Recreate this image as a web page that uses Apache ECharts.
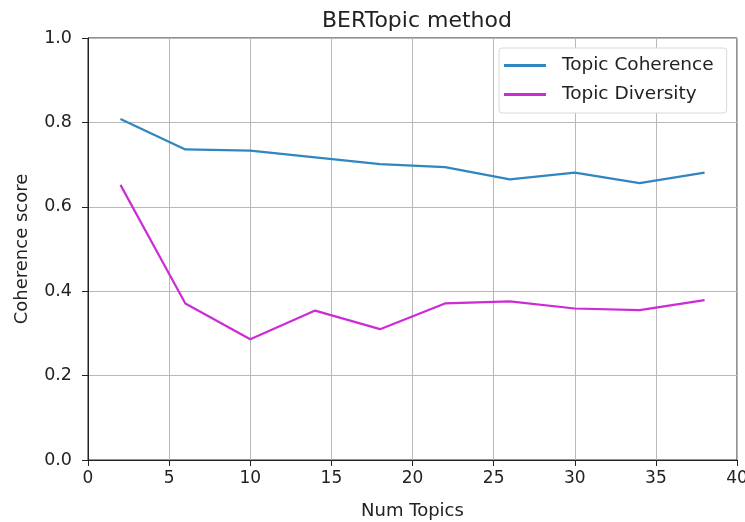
<!DOCTYPE html>
<html><head><meta charset="utf-8">
<script src="https://cdn.jsdelivr.net/npm/echarts@6/dist/echarts.min.js"></script>
<style>html,body{margin:0;padding:0;background:#fff}#c{width:745px;height:522px}</style>
</head><body><div id="c"></div>
<script>
const numTopics = [2, 6, 10, 14, 18, 22, 26, 30, 34, 38];
const coherence = [0.808, 0.736, 0.733, 0.717, 0.701, 0.694, 0.665, 0.681, 0.656, 0.681];
const diversity = [0.652, 0.371, 0.286, 0.354, 0.310, 0.371, 0.376, 0.359, 0.355, 0.379];
const FONT = 'DejaVu Sans';
const chart = echarts.init(document.getElementById('c'));
chart.setOption({
  animation: false,
  title: { text: 'BERTopic method', left: 412, textAlign: 'center', top: 5,
    textStyle: { fontFamily: FONT, fontSize: 22, fontWeight: 'normal', color: '#222' } },
  grid: { left: 88, right: 8, top: 38, bottom: 62, show: true, borderColor: '#222', borderWidth: 1,
    containLabel: false, outerBoundsMode: 'none' },
  legend: {
    orient: 'vertical', left: 499, top: 48, itemGap: 10,
    itemWidth: 42, itemHeight: 3, icon: 'rect',
    padding: [8, 13, 9, 5],
    backgroundColor: '#fff', borderColor: '#d8d8d8', borderWidth: 1, borderRadius: 3,
    textStyle: { fontFamily: FONT, fontSize: 18.5, color: '#222', padding: [0, 0, 0, 11] },
    data: ['Topic Coherence', 'Topic Diversity']
  },
  xAxis: {
    type: 'value', min: 0, max: 40, interval: 5,
    name: 'Num Topics', nameLocation: 'middle', nameGap: 42,
    nameTextStyle: { fontFamily: FONT, fontSize: 18, color: '#222' },
    axisLine: { lineStyle: { color: '#222' } },
    axisTick: { show: true, length: 6, lineStyle: { color: '#222' } },
    axisLabel: { fontFamily: FONT, fontSize: 17, color: '#222', margin: 10 },
    splitLine: { show: true, lineStyle: { color: '#b8b8b8', width: 1 } }
  },
  yAxis: {
    type: 'value', min: 0, max: 1, interval: 0.2,
    name: 'Coherence score', nameLocation: 'middle', nameGap: 57,
    nameTextStyle: { fontFamily: FONT, fontSize: 18, color: '#222' },
    axisLine: { show: true, lineStyle: { color: '#222' } },
    axisTick: { show: true, length: 6, lineStyle: { color: '#222' } },
    axisLabel: { fontFamily: FONT, fontSize: 17.5, color: '#222', margin: 16,
      formatter: v => v.toFixed(1) },
    splitLine: { show: true, lineStyle: { color: '#b8b8b8', width: 1 } }
  },
  series: [
    { name: 'Topic Coherence', type: 'line', symbol: 'none', color: '#2f86c0',
      lineStyle: { width: 2.2 }, data: numTopics.map((x, i) => [x, coherence[i]]) },
    { name: 'Topic Diversity', type: 'line', symbol: 'none', color: '#cc2bd6',
      lineStyle: { width: 2.2 }, data: numTopics.map((x, i) => [x, diversity[i]]) }
  ]
});
</script></body></html>
